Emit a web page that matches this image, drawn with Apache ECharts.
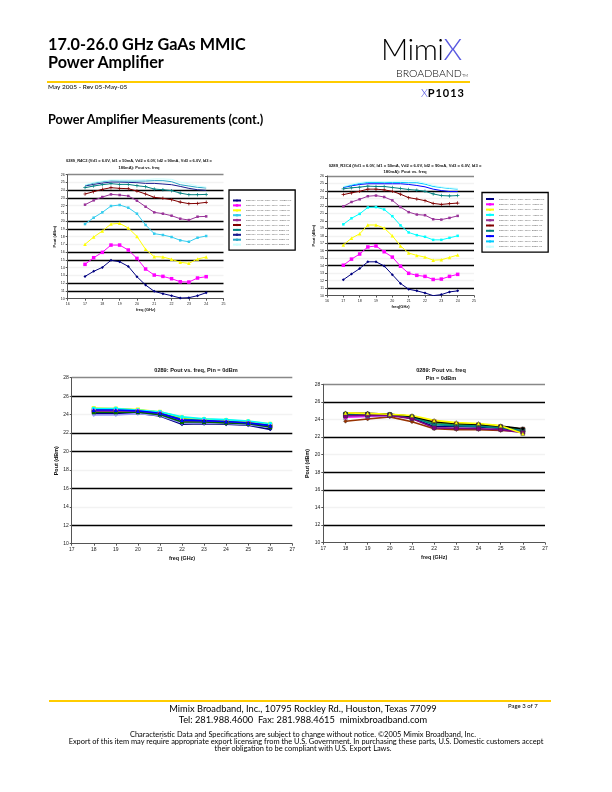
<!DOCTYPE html>
<html><head><meta charset="utf-8">
<script src="https://cdn.jsdelivr.net/npm/echarts@6/dist/echarts.min.js"></script>
<style>
html,body{margin:0;padding:0;background:#fff;}
#page{position:relative;width:612px;height:792px;overflow:hidden;background:#fff;}
#chart{position:absolute;left:0;top:0;width:612px;height:792px;}
.t{position:absolute;white-space:nowrap;color:#000;line-height:1;}
.c{text-align:center;}
</style></head><body>
<div id="page">
<div id="chart"></div>
<div class="t" style="left:48px;top:35.5px;font-family:Lato;font-weight:bold;font-size:16.2px;">17.0-26.0 GHz GaAs MMIC</div>
<div class="t" style="left:48px;top:53.5px;font-family:Lato;font-weight:bold;font-size:16.2px;">Power Amplifier</div>
<div style="position:absolute;left:47px;top:81px;width:423px;height:2px;background:#FFCC00;"></div>
<div class="t" style="left:48px;top:84px;font-family:Lato;font-size:6.5px;">May 2005 - Rev 05-May-05</div>
<div class="t" style="left:381px;top:33px;font-family:Lato;font-weight:300;font-size:30px;letter-spacing:-0.5px;color:#000;">Mimi<span style="color:#5a5ae0;">X</span></div>
<div class="t" style="left:396px;top:67.5px;font-family:Lato;font-weight:300;font-size:10.6px;color:#000;">BROADBAND<span style="font-size:4px;">TM</span></div>
<div class="t" style="left:421px;top:87px;font-family:Lato;font-size:11px;"><span style="color:#4a4ae0;font-weight:300;">X</span><b style="letter-spacing:0.9px;">P1013</b></div>
<div class="t" style="left:48px;top:113px;font-family:Lato;font-weight:bold;font-size:12.7px;">Power Amplifier Measurements (cont.)</div>

<div style="position:absolute;left:49px;top:700px;width:502px;height:2px;background:#FFCC00;"></div>
<div class="t c" style="left:0;width:606px;top:704px;font-family:Lato;font-size:9.3px;">Mimix Broadband, Inc., 10795 Rockley Rd., Houston, Texas 77099</div>
<div class="t c" style="left:0;width:606px;top:715px;font-family:Lato;font-size:9.3px;">Tel: 281.988.4600&nbsp; Fax: 281.988.4615&nbsp; mimixbroadband.com</div>
<div class="t" style="left:508px;top:703px;font-family:Lato;font-size:6px;">Page 3 of 7</div>
<div class="t c" style="left:0;width:606px;top:731px;font-family:Lato;font-size:7.45px;">Characteristic Data and Specifications are subject to change without notice. ©2005 Mimix Broadband, Inc.</div>
<div class="t c" style="left:0;width:612px;top:738px;font-family:Lato;font-size:7.45px;">Export of this item may require appropriate export licensing from the U.S. Government. In purchasing these parts, U.S. Domestic customers accept</div>
<div class="t c" style="left:0;width:606px;top:745px;font-family:Lato;font-size:7.45px;">their obligation to be compliant with U.S. Export Laws.</div>
</div>
<script>
// ---------- data ----------
const freqTop = [17,17.5,18,18.5,19,19.5,20,20.5,21,21.5,22,22.5,23,23.5,24];
const pinLevels = ['-10','-8','-6','-4','-2','0','2','4','6','8'];

const tl1 = [12.88,13.53,14.04,14.95,14.77,14.17,12.84,11.76,10.95,10.65,10.39,10.09,10.13,10.39,10.77];
const tl2 = [14.43,15.29,15.98,16.92,16.92,16.28,15.20,13.83,13.05,12.88,12.58,12.19,12.15,12.67,12.84];
const tl3 = [17.01,17.96,18.73,19.63,19.72,19.12,18.04,16.37,15.42,15.38,15.08,14.69,14.56,15.12,15.38];
const tl4 = [19.63,20.45,21.14,21.96,22.09,21.74,20.97,19.51,18.39,18.22,17.96,17.53,17.35,17.87,18.09];
const tl5 = [22.13,22.69,23.12,23.46,23.38,23.25,22.65,21.87,21.14,20.97,20.71,20.32,20.15,20.58,20.62];
const tl6 = [23.51,23.81,24.11,24.32,24.24,24.19,23.89,23.51,23.08,22.95,22.77,22.47,22.26,22.30,22.43];
const tl7 = [24.32,24.54,24.71,24.84,24.75,24.75,24.58,24.45,24.15,24.06,23.94,23.63,23.42,23.42,23.46];
const tl8 = [24.54,24.75,24.92,25.05,25.05,25.01,24.97,24.88,24.88,24.80,24.71,24.49,24.24,24.06,23.98];
const tl9 = [24.62,24.92,25.10,25.23,25.18,25.18,25.18,25.18,25.23,25.23,25.10,24.71,24.54,24.37,24.28];
const tl10 = [24.70,25.01,25.18,25.32,25.32,25.32,25.32,25.36,25.45,25.45,25.40,25.05,24.80,24.55,24.40];

const tr1 = [12.11,12.88,13.60,14.51,14.51,13.96,12.79,11.61,10.84,10.62,10.34,9.98,10.12,10.48,10.62];
const tr2 = [14.05,14.87,15.55,16.50,16.63,15.86,15.14,13.92,12.97,12.70,12.56,12.15,12.20,12.56,12.83];
const tr3 = [16.77,17.67,18.26,19.44,19.44,19.03,17.99,16.63,15.68,15.37,15.14,14.73,14.78,15.10,15.41];
const tr4 = [19.53,20.34,20.93,21.79,21.84,21.52,20.62,19.39,18.44,18.08,17.86,17.45,17.45,17.72,17.99];
const tr5 = [21.93,22.52,22.88,23.29,23.38,23.19,22.74,21.84,21.16,20.84,20.75,20.21,20.16,20.39,20.66];
const tr6 = [23.51,23.74,23.96,24.24,24.24,24.14,23.96,23.56,23.10,22.92,22.70,22.33,22.20,22.29,22.38];
const tr7 = [24.28,24.42,24.51,24.64,24.60,24.60,24.46,24.33,24.19,24.10,23.96,23.60,23.38,23.33,23.38];
const tr8 = [24.46,24.69,24.87,24.96,24.96,24.96,24.96,24.96,24.87,24.73,24.55,24.24,24.05,23.92,23.92];
const tr9 = [24.51,24.78,25.00,25.14,25.14,25.14,25.14,25.14,25.10,25.10,24.91,24.60,24.46,24.33,24.24];
const tr10 = [24.60,24.91,25.14,25.28,25.28,25.23,25.28,25.32,25.37,25.32,25.05,24.75,24.55,24.42,24.35];

const freqBot = [18,19,20,21,22,23,24,25,26];
const bl1 = [24.10,24.10,24.15,23.85,22.95,23.00,22.95,22.85,22.40];
const bl2 = [24.40,24.40,24.40,24.15,23.35,23.30,23.20,23.10,22.75];
const bl3 = [24.60,24.60,24.50,24.25,23.60,23.45,23.35,23.20,22.95];
const bl4 = [24.55,24.55,24.45,24.20,23.50,23.40,23.30,23.15,22.85];
const bl5 = [24.70,24.65,24.55,24.30,23.70,23.50,23.40,23.25,23.00];
const bl6 = [24.65,24.65,24.50,24.30,23.75,23.55,23.45,23.30,23.00];
const bl7 = [24.35,24.35,24.35,24.10,23.30,23.25,23.15,23.05,22.70];
const bl8 = [23.95,23.95,24.10,23.90,23.10,23.10,23.05,22.90,22.60];
const bl9 = [24.25,24.25,24.25,24.00,23.20,23.20,23.10,23.00,22.65];
const bl10 = [24.50,24.50,24.40,24.15,23.40,23.35,23.25,23.10,22.80];

const br1 = [24.60,24.60,24.55,24.15,23.20,23.20,23.15,23.00,22.60];
const br2 = [23.80,24.05,24.30,23.75,22.95,22.85,22.85,22.75,22.65];
const br3 = [24.25,24.35,24.45,24.35,23.70,23.45,23.35,23.15,22.85];
const br4 = [24.75,24.70,24.60,24.45,23.90,23.65,23.55,23.30,22.40];
const br5 = [24.45,24.45,24.50,24.30,23.55,23.35,23.30,23.10,22.80];
const br6 = [24.65,24.65,24.60,24.35,23.60,23.45,23.40,23.20,22.90];
const br7 = [24.70,24.70,24.60,24.35,23.75,23.55,23.45,23.25,22.95];
const br8 = [24.55,24.55,24.50,24.25,23.40,23.30,23.25,23.05,22.75];
const br9 = [24.50,24.55,24.50,24.30,23.75,23.50,23.40,23.20,22.90];
const br10 = [24.40,24.50,24.45,24.10,23.05,23.00,22.95,22.85,22.50];

// ---------- styles ----------
const tlColors = ['#000080','#FF00FF','#FFFF00','#33CCEE','#993399','#800000','#008080','#1A1A8C','#2AA6C6','#CCFFFF'];
const trColors = ['#000080','#FF00FF','#FFFF00','#00FFFF','#993399','#800000','#008080','#0000FF','#00CCFF','#CCFFFF'];
const plusPath = 'path://M4,0H6V4H10V6H6V10H4V6H0V4H4Z';
const topSymbols = ['diamond','rect','triangle','rect','rect',plusPath,plusPath,'none','none','none'];
const topSymSize = [3,3.5,3.5,2.5,2.5,3.5,3.5,0,0,0];
const blColors = ['#000080','#FF0000','#339966','#008080','#FFFF00','#00FFFF','#FF00FF','#9999FF','#006600','#0000FF'];
const brColors = ['#993300','#000080','#FF00FF','#00FFFF','#FF0000','#339933','#008080','#000000','#800080','#FFFF00'];
const botSymbols = ['diamond','rect','triangle','rect','rect','circle','rect','diamond','rect','triangle'];

const B = '#000', L = '#f2f2f2', G = '#888', T = 'rgba(0,0,0,0)';
const tlGrid = [T,B,B,L,L,B,B,L,L,B,B,L,L,B,B,L,G];
const trGrid = [T,B,L,L,B,L,B,B,L,B,L,L,B,L,B,L,G];
const blGrid = [T,B,L,B,L,B,B,L,B,G];
const brGrid = [T,B,L,B,B,L,B,L,B,G];

const tlSets = [tl1,tl2,tl3,tl4,tl5,tl6,tl7,tl8,tl9,tl10];
const trSets = [tr1,tr2,tr3,tr4,tr5,tr6,tr7,tr8,tr9,tr10];
const blSets = [bl1,bl2,bl3,bl4,bl5,bl6,bl7,bl8,bl9,bl10];
const brSets = [br2,br1,br3,br5,br9,br6,br8,br7,br10,br4];

const tlNames = pinLevels.map(p => 'Baseline_R4C2_0289_0503_' + p + 'dBm.xls');
const trNames = pinLevels.map(p => 'Baseline_R3C4_0289_0503_' + p + 'dBm.xls');

const FONT = 'Liberation Sans';

function xAx(gi, min, max, fs, name, gap) {
  return { type:'value', gridIndex:gi, min:min, max:max, interval:1,
    axisLine:{show:true, lineStyle:{color:'#555', width:1}},
    axisTick:{show:true, length:2, lineStyle:{color:'#555'}},
    axisLabel:{fontSize:fs, color:'#222', margin:3, fontFamily:FONT},
    splitLine:{show:false},
    name:name, nameLocation:'middle', nameGap:gap,
    nameTextStyle:{fontSize:fs+0.4, fontWeight:'bold', color:'#111', fontFamily:FONT} };
}
function yAx(gi, min, max, step, fs, gridColors, name, gap) {
  return { type:'value', gridIndex:gi, min:min, max:max, interval:step,
    axisLine:{show:true, lineStyle:{color:'#555', width:1}},
    axisTick:{show:true, length:2, lineStyle:{color:'#555'}},
    axisLabel:{fontSize:fs, color:'#222', margin:3, fontFamily:FONT},
    splitLine:{show:true, lineStyle:{color:gridColors, width:1.4}},
    name:name, nameLocation:'middle', nameGap:gap, nameRotate:90,
    nameTextStyle:{fontSize:fs+0.4, fontWeight:'bold', color:'#111', fontFamily:FONT} };
}

const series = [];
tlSets.forEach((vals, i) => series.push({
  type:'line', name:tlNames[i], xAxisIndex:0, yAxisIndex:0,
  data: freqTop.map((f, k) => [f, vals[k]]),
  symbol: topSymbols[i], symbolSize: topSymSize[i], showSymbol: topSymbols[i] !== 'none',
  lineStyle:{color:tlColors[i], width:1}, itemStyle:{color:tlColors[i]}, animation:false
}));
trSets.forEach((vals, i) => series.push({
  type:'line', name:trNames[i], xAxisIndex:1, yAxisIndex:1,
  data: freqTop.map((f, k) => [f, vals[k]]),
  symbol: topSymbols[i], symbolSize: topSymSize[i], showSymbol: topSymbols[i] !== 'none',
  lineStyle:{color:trColors[i], width:1}, itemStyle:{color:trColors[i]}, animation:false
}));
blSets.forEach((vals, i) => series.push({
  type:'line', name:'0289 Pin0 L' + (i+1), xAxisIndex:2, yAxisIndex:2,
  data: freqBot.map((f, k) => [f, vals[k]]),
  symbol: botSymbols[i], symbolSize:4,
  lineStyle:{color:blColors[i], width:1.6}, itemStyle:{color:blColors[i]}, animation:false
}));
brSets.forEach((vals, i) => series.push({
  type:'line', name:'0289 Pin0 R' + (i+1), xAxisIndex:3, yAxisIndex:3,
  data: freqBot.map((f, k) => [f, vals[k]]),
  symbol: botSymbols[i], symbolSize:4,
  lineStyle:{color:brColors[i], width:1.6}, itemStyle:{color:brColors[i], borderColor:'#333', borderWidth:0.4}, animation:false
}));

const legendCommon = {
  orient:'vertical', itemWidth:8, itemHeight:3, itemGap:1.9, selectedMode:false,
  textStyle:{fontSize:2.5, color:'#666', fontFamily:FONT},
  borderColor:'#000', borderWidth:1.3, backgroundColor:'#fff'
};

const option = {
  animation:false,
  backgroundColor:'transparent',
  title:[
    {text:'0289_R4C2 (Vd1 = 6.0V, Id1 = 50mA, Vd2 = 6.0V, Id2 = 90mA, Vd3 = 6.0V, Id3 =\n180mA): Pout vs. freq',
     left:134, top:152, textAlign:'center',
     textStyle:{fontSize:4, fontWeight:'bold', lineHeight:7, color:'#111', fontFamily:FONT}},
    {text:'0289_R3C4 (Vd1 = 6.0V, Id1 = 50mA, Vd2 = 6.0V, Id2 = 90mA, Vd3 = 6.0V, Id3 =\n180mA): Pout vs. freq',
     left:400, top:157, textAlign:'center',
     textStyle:{fontSize:4.2, fontWeight:'bold', lineHeight:6.8, color:'#111', fontFamily:FONT}},
    {text:'0289: Pout vs. freq, Pin = 0dBm', left:191, top:362, textAlign:'center',
     textStyle:{fontSize:5.6, fontWeight:'bold', color:'#111', fontFamily:FONT}},
    {text:'0289: Pout vs. freq\nPin = 0dBm', left:436, top:362, textAlign:'center',
     textStyle:{fontSize:5.6, fontWeight:'bold', lineHeight:7.6, color:'#111', fontFamily:FONT}}
  ],
  legend:[
    Object.assign({}, legendCommon, {data:tlNames, left:229, top:190, padding:[9,4,4,3]}),
    Object.assign({}, legendCommon, {data:trNames, left:482, top:192.5, padding:[5,4,4,3], itemGap:2.3})
  ],
  grid:[
    {left:67.7, top:174.7, width:155.8, height:124},
    {left:327, top:176, width:147, height:119.5},
    {left:71.7, top:377.7, width:220.6, height:166},
    {left:323.3, top:384.3, width:221.7, height:158.4}
  ],
  xAxis:[
    xAx(0, 16, 25, 3.6, 'freq (GHz)', 9),
    xAx(1, 16, 25, 3.6, 'freq(GHz)', 9),
    xAx(2, 17, 27, 5, 'freq (GHz)', 12),
    xAx(3, 17, 27, 5, 'freq (GHz)', 12)
  ],
  yAxis:[
    yAx(0, 10, 26, 1, 3.6, tlGrid, 'Pout (dBm)', 10),
    yAx(1, 10, 26, 1, 3.6, trGrid, 'Pout (dBm)', 10),
    yAx(2, 10, 28, 2, 5, blGrid, 'Pout (dBm)', 13),
    yAx(3, 10, 28, 2, 5, brGrid, 'Pout (dBm)', 13)
  ],
  series: series
};
const chart = echarts.init(document.getElementById('chart'), null, {renderer:'canvas', width:612, height:792});
chart.setOption(option);
</script>
</body></html>
